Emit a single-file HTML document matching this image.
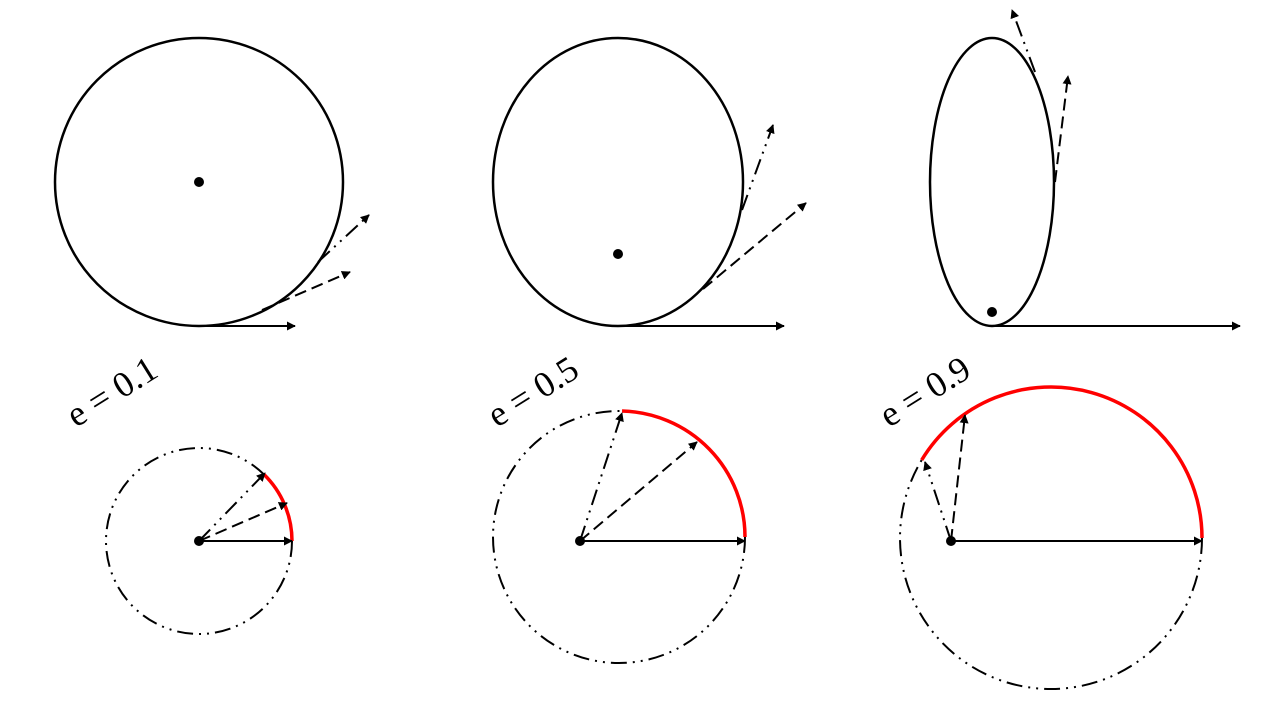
<!DOCTYPE html>
<html><head><meta charset="utf-8"><style>
html,body{margin:0;padding:0;background:#fff;width:1280px;height:720px;overflow:hidden}
svg{display:block}
text{font-family:"Liberation Serif",serif;font-size:36px;fill:#000}
</style></head><body>
<svg id="fig" width="1280" height="720" viewBox="0 0 1280 720">
<defs>
<marker id="ah" viewBox="0 0 10 10" refX="9" refY="5" markerWidth="9" markerHeight="9" markerUnits="userSpaceOnUse" orient="auto"><path d="M0,0 L10,5 L0,10 z" fill="#000"/></marker>
</defs>
<g id="root"></g>
</svg>
<script>
const ecc = [0.1, 0.5, 0.9];
const labels = ["e = 0.1", "e = 0.5", "e = 0.9"];
const ellCx = [199, 618, 992];
const ellRx = [144, 125, 62];
const ellRy = [144, 144, 144];
const ellCy = 182;
const focusY = [182, 254, 312];
const periVx = [295, 784, 1240];
const dashArr = [[262,310,350,272],[703,289,806,203],[1055,182,1068,76]];
const dotArr = [[318,262,369,215],[742,210,773,125],[1035,72,1012,10]];
const hCx = [199, 619, 1051];
const hCy = [541, 537, 538];
const hR = [93, 126, 151];
const hOx = [199, 580, 951];
const hOy = 541;
const hDash = [[287,503],[697,442],[965,415]];
const hDot = [[265,473],[622,413],[925,462]];
const labelPos = [[76,428],[497,428],[889,428]];

const NS = "http://www.w3.org/2000/svg";
const root = document.getElementById('root');
function mk(tag, attrs){const e=document.createElementNS(NS,tag);for(const k in attrs)e.setAttribute(k,attrs[k]);root.appendChild(e);return e;}
const DASH = "12,6", DOTDASH = "16,6,2,6,2,6";

for (let i=0;i<ecc.length;i++){
  const el = mk('ellipse',{cx:ellCx[i],cy:ellCy,rx:ellRx[i],ry:ellRy[i],fill:'none',stroke:'#000','stroke-width':2.5});
  
  
  const f = mk('circle',{cx:ellCx[i],cy:focusY[i],r:5,fill:'#000'});
  
  
  const pv = mk('line',{x1:ellCx[i],y1:ellCy+ellRy[i],x2:periVx[i],y2:ellCy+ellRy[i],stroke:'#000','stroke-width':2,'marker-end':'url(#ah)'});
  
  
  const d = dashArr[i];
  const da = mk('line',{x1:d[0],y1:d[1],x2:d[2],y2:d[3],stroke:'#000','stroke-width':2,'stroke-dasharray':DASH,'marker-end':'url(#ah)'});
  
  
  const t = dotArr[i];
  const ta = mk('line',{x1:t[0],y1:t[1],x2:t[2],y2:t[3],stroke:'#000','stroke-width':2,'stroke-dasharray':DOTDASH,'marker-end':'url(#ah)'});
  
  

  const hc = mk('circle',{cx:hCx[i],cy:hCy[i],r:hR[i],fill:'none',stroke:'#000','stroke-width':2,'stroke-dasharray':DOTDASH});
  
  
  const a0 = Math.atan2(hDot[i][1]-hCy[i], hDot[i][0]-hCx[i]);
  const sx = hCx[i]+hR[i]*Math.cos(a0), sy = hCy[i]+hR[i]*Math.sin(a0);
  const ex = hCx[i]+hR[i], ey = hCy[i];
  const large = (-a0) > Math.PI ? 1 : 0;
  const arc = mk('path',{d:`M${sx},${sy} A${hR[i]},${hR[i]} 0 ${large} 1 ${ex},${ey}`,fill:'none',stroke:'#f00','stroke-width':3.5});
  
  
  const h1 = mk('line',{x1:hOx[i],y1:hOy,x2:ex,y2:hOy,stroke:'#000','stroke-width':2,'marker-end':'url(#ah)'});
  
  
  const h2 = mk('line',{x1:hOx[i],y1:hOy,x2:hDash[i][0],y2:hDash[i][1],stroke:'#000','stroke-width':2,'stroke-dasharray':DASH,'marker-end':'url(#ah)'});
  
  
  const h3 = mk('line',{x1:hOx[i],y1:hOy,x2:hDot[i][0],y2:hDot[i][1],stroke:'#000','stroke-width':2,'stroke-dasharray':DOTDASH,'marker-end':'url(#ah)'});
  
  
  const o = mk('circle',{cx:hOx[i],cy:hOy,r:5,fill:'#000'});
  
  
  const lb = mk('text',{x:labelPos[i][0],y:labelPos[i][1],transform:`rotate(-32 ${labelPos[i][0]} ${labelPos[i][1]})`});
  lb.textContent = labels[i];
  
  
}
</script>
</body></html>
